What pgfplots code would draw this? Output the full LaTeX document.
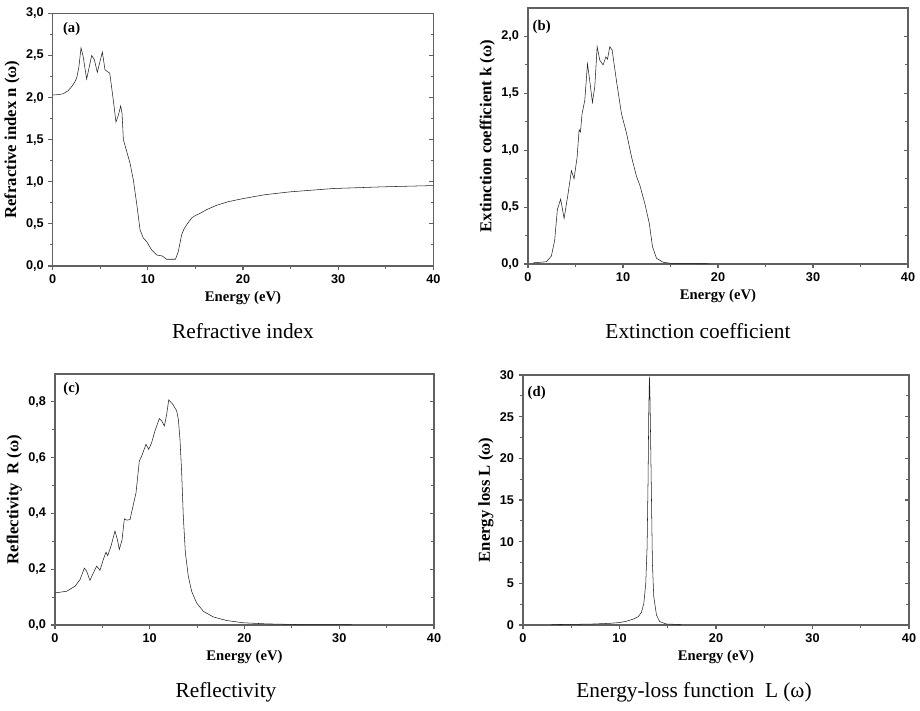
\documentclass[border=0pt]{standalone}
\usepackage{fontspec}
\setmainfont{Liberation Serif}
\setsansfont{Liberation Sans}
\usepackage{pgfplots}
\pgfplotsset{compat=1.18}

\colorlet{axgray}{black!62}
\tikzset{tag/.style={font=\bfseries\fontsize{11}{12}\selectfont, anchor=west}}
\pgfplotsset{
  panel/.style={
    scale only axis, anchor=south west,
    xmin=0, xmax=40, xtick={0,10,20,30,40}, minor x tick num=1,
    xtick pos=bottom, ytick pos=left, tick align=outside,
    axis line style={draw=axgray, line width=0.9pt},
    every tick/.style={axgray, line width=0.8pt},
    major tick length=3.2pt, minor tick length=2pt,
    tick label style={font=\sffamily\bfseries\fontsize{9.5}{10}\selectfont},
    /pgf/number format/assume math mode=true,
    xlabel={Energy (eV)},
    xlabel style={font=\bfseries\fontsize{11}{12}\selectfont, yshift=1pt},
    ylabel style={font=\bfseries\fontsize{12.5}{13}\selectfont, yshift=-2pt},
    cycle list={{black!88, line width=0.85pt, mark=none}},
  },
  commay/.style={yticklabel style={/pgf/number format/.cd, use comma, fixed, fixed zerofill, precision=1}},
  rticks/.style={
    scale only axis, anchor=south west, xmin=0, xmax=40,
    hide x axis, axis y line*=right, tick align=inside, yticklabels={},
    axis line style={draw=axgray, line width=0.9pt},
    every tick/.style={axgray, line width=0.8pt},
    major tick length=3.2pt, minor tick length=2pt,
  },
}

\begin{document}
\begin{tikzpicture}
\useasboundingbox (0,0) rectangle (690pt,-532.5pt);

% (a) refractive index
\begin{axis}[panel, commay, at={(39.5pt,-199.5pt)}, width=285.5pt, height=189.5pt,
  ymin=0, ymax=3, ytick={0,0.5,...,3}, minor y tick num=1,
  ylabel={Refractive index n (ω)}]
\addplot coordinates {
(0,2.03)(0.6,2.035)(1.12,2.045)(1.6,2.08)(2.0,2.13)(2.3,2.18)(2.52,2.23)(2.75,2.36)(2.98,2.59)(3.2,2.49)(3.57,2.22)
(4.1,2.5)(4.38,2.45)(4.69,2.30)(5.22,2.54)(5.5,2.33)(5.74,2.31)(6.0,2.29)
(6.37,1.97)(6.65,1.71)(6.9,1.79)(7.15,1.90)(7.29,1.81)(7.43,1.50)(8.13,1.22)
(8.48,1.02)(8.83,0.74)(9.18,0.43)(9.53,0.33)(9.88,0.29)(10.4,0.19)(10.93,0.13)
(11.5,0.12)(11.98,0.08)(12.9,0.08)(13.2,0.17)(13.55,0.37)(13.8,0.44)(14.08,0.49)(14.6,0.57)
(15.0,0.60)(15.48,0.625)(16.2,0.67)(17.2,0.72)(18.5,0.765)(20.0,0.80)(22.2,0.845)(24.9,0.88)(29.5,0.92)(34.7,0.94)(40,0.955)
};
\node[tag] at (rel axis cs:0.015,0.94) {(a)};
\end{axis}
\begin{axis}[rticks, at={(39.5pt,-199.5pt)}, width=285.5pt, height=189.5pt,
  ymin=0, ymax=3, ytick={0,0.5,...,3}, minor y tick num=1]
\end{axis}
\node[font=\fontsize{16}{18}\selectfont] at (182.25pt,-248pt) {Refractive index};

% (b) extinction coefficient
\begin{axis}[panel, commay, at={(396pt,-198pt)}, width=285pt, height=192pt,
  ymin=0, ymax=2.25, ytick={0,0.5,...,2}, minor y tick num=1,
  ylabel={Extinction coefficient k (ω)}]
\addplot coordinates {
(0.53,0.01)(1.93,0.02)(2.46,0.07)(2.81,0.21)(3.09,0.48)(3.44,0.57)(3.8,0.40)
(4.22,0.62)(4.57,0.82)(4.85,0.75)(5.17,0.94)(5.38,1.18)(5.52,1.16)(5.69,1.32)
(5.98,1.44)(6.26,1.76)(6.5,1.61)(6.78,1.42)(7.03,1.56)(7.28,1.91)(7.56,1.79)
(7.91,1.75)(8.19,1.82)(8.37,1.80)(8.61,1.91)(8.86,1.88)(9.31,1.61)(9.84,1.32)
(10.37,1.15)(10.9,0.94)(11.42,0.77)(11.78,0.69)(12.3,0.53)(12.76,0.36)
(13.11,0.15)(13.53,0.05)(14.24,0.015)(15.3,0.003)(19.16,0.002)
};
\node[tag] at (rel axis cs:0.0,0.925) {(b)};
\end{axis}
\begin{axis}[rticks, at={(396pt,-198pt)}, width=285pt, height=192pt,
  ymin=0, ymax=2.25, ytick={0,0.5,...,2}, minor y tick num=1]
\end{axis}
\node[font=\fontsize{16}{18}\selectfont] at (523.5pt,-248pt) {Extinction coefficient};

% (c) reflectivity
\begin{axis}[panel, commay, at={(41.25pt,-468.75pt)}, width=284.25pt, height=188.25pt,
  ymin=0, ymax=0.9, ytick={0,0.2,...,0.8}, minor y tick num=1,
  ylabel={Reflectivity\ \ R (ω)}]
\addplot coordinates {
(0,0.115)(1.23,0.121)(2.11,0.139)(2.64,0.163)(3.1,0.204)(3.34,0.193)(3.69,0.16)
(4.05,0.187)(4.4,0.211)(4.75,0.196)(5.1,0.235)(5.38,0.261)(5.56,0.249)(5.91,0.283)
(6.33,0.337)(6.58,0.307)(6.79,0.271)(7.07,0.304)(7.32,0.381)(7.56,0.376)(7.92,0.378)
(8.27,0.432)(8.55,0.474)(8.9,0.588)(9.15,0.606)(9.6,0.648)(9.89,0.63)(10.2,0.654)
(10.55,0.696)(11.01,0.74)(11.26,0.732)(11.54,0.714)(11.79,0.756)(12.0,0.807)
(12.42,0.792)(12.84,0.768)(13.02,0.738)(13.19,0.666)(13.37,0.546)(13.54,0.39)
(13.76,0.259)(14.07,0.175)(14.42,0.121)(14.95,0.079)(15.66,0.049)(16.71,0.029)
(18.12,0.016)(19.88,0.008)(22.34,0.004)(25.86,0.0015)(31.3,0.001)
};
\node[tag] at (rel axis cs:0.01,0.94) {(c)};
\end{axis}
\begin{axis}[rticks, at={(41.25pt,-468.75pt)}, width=284.25pt, height=188.25pt,
  ymin=0, ymax=0.9, ytick={0,0.2,...,0.8}, minor y tick num=1]
\end{axis}
\node[font=\fontsize{16}{18}\selectfont] at (169.5pt,-519pt) {Reflectivity};

% (d) energy loss
\begin{axis}[panel, at={(392.25pt,-468.75pt)}, width=289.5pt, height=187.5pt,
  ymin=0, ymax=30, ytick={0,5,...,30}, minor y tick num=1,
  ylabel={Energy loss L (ω)}]
\addplot coordinates {
(2.94,0.05)(5.53,0.08)(7.26,0.12)(8.99,0.2)(10.03,0.3)(10.72,0.45)(11.41,0.7)
(11.93,1.0)(12.27,1.5)(12.52,2.6)(12.72,5.0)(12.86,9.4)(12.96,17.4)(13.03,25.4)
(13.1,29.8)(13.15,28.0)(13.21,23.4)(13.31,15.4)(13.41,7.4)(13.55,3.4)(13.83,1.2)
(14.17,0.4)(14.87,0.12)(16.42,0.05)
};
\node[tag] at (rel axis cs:0.0,0.93) {(d)};
\end{axis}
\begin{axis}[rticks, at={(392.25pt,-468.75pt)}, width=289.5pt, height=187.5pt,
  ymin=0, ymax=30, ytick={0,5,...,30}, minor y tick num=1]
\end{axis}
\node[font=\fontsize{16}{18}\selectfont] at (520.5pt,-519pt) {Energy-loss function\ \ L (ω)};
\end{tikzpicture}
\end{document}
